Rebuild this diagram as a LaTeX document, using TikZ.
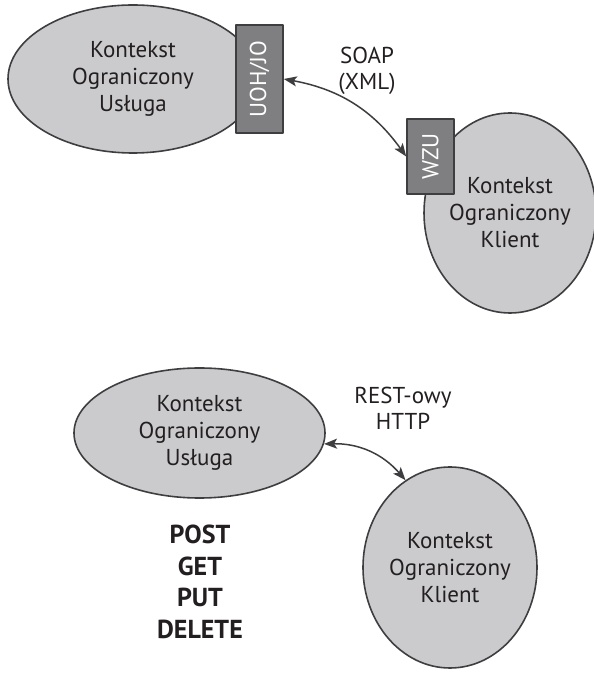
\documentclass[tikz,border=0pt]{standalone}
\usepackage{fontspec}
\setmainfont{PT Sans}
\usepackage{tikz}
\usetikzlibrary{shapes.geometric}
\usetikzlibrary{arrows.meta}

\definecolor{ctxfill}{HTML}{CBCBCD}
\definecolor{edge}{HTML}{3E3E40}
\definecolor{boxfill}{HTML}{7F7F81}
\definecolor{ink}{HTML}{231F20}

\begin{document}
\begin{tikzpicture}[x=1pt, y=1pt, line join=round,
  ctx/.style={ellipse, draw=edge, fill=ctxfill, line width=1.6pt, inner sep=0pt,
    align=center, text=ink, font=\fontsize{23}{27}\selectfont},
  port/.style={rectangle, draw=edge, fill=boxfill, line width=1.6pt, inner sep=0pt},
  porttext/.style={rotate=90, text=white, font=\fontsize{23}{27}\selectfont},
  proto/.style={align=center, text=ink, font=\fontsize{23}{26}\selectfont},
  link/.style={{Stealth[length=13pt,width=10pt,inset=3pt]}-{Stealth[length=13pt,width=10pt,inset=3pt]},
    draw=edge, line width=1.5pt}]
\useasboundingbox (0,0) rectangle (594,678);

% SOAP
\node[ctx, minimum width=250, minimum height=148] (usl1) at (133,599)
  {Kontekst\\Ograniczony\\Usługa};
\node[port, minimum width=47, minimum height=108] (uoh) at (259.5,599) {};
\node[porttext] (uohtxt) at (uoh) {UOH/JO};
\node[ctx, minimum width=166, minimum height=200] (kli1) at (510,465)
  {Kontekst\\Ograniczony\\Klient};
\node[port, minimum width=47, minimum height=75] (wzu) at (430.5,521.5) {};
\node[porttext] (wzutxt) at (wzu) {WZU};
\node[proto] (soap) at (367,607.5) {SOAP\\(XML)};
\draw[link] (uoh.east) to[bend left=22] (wzu.west);

% REST
\node[ctx, minimum width=251, minimum height=130] (usl2) at (199.5,245)
  {Kontekst\\Ograniczony\\Usługa};
\node[ctx, minimum width=174, minimum height=201] (kli2) at (450,110.5)
  {Kontekst\\Ograniczony\\Klient};
\node[proto] (rest) at (403,269.5) {REST-owy\\HTTP};
\node[align=center, text=ink, font=\fontsize{26}{31.5}\selectfont\bfseries] (verbs) at (200,96)
  {POST\\GET\\PUT\\DELETE};
\draw[link] (usl2.-5) to[bend left=25] (kli2.117);
\end{tikzpicture}
\end{document}
